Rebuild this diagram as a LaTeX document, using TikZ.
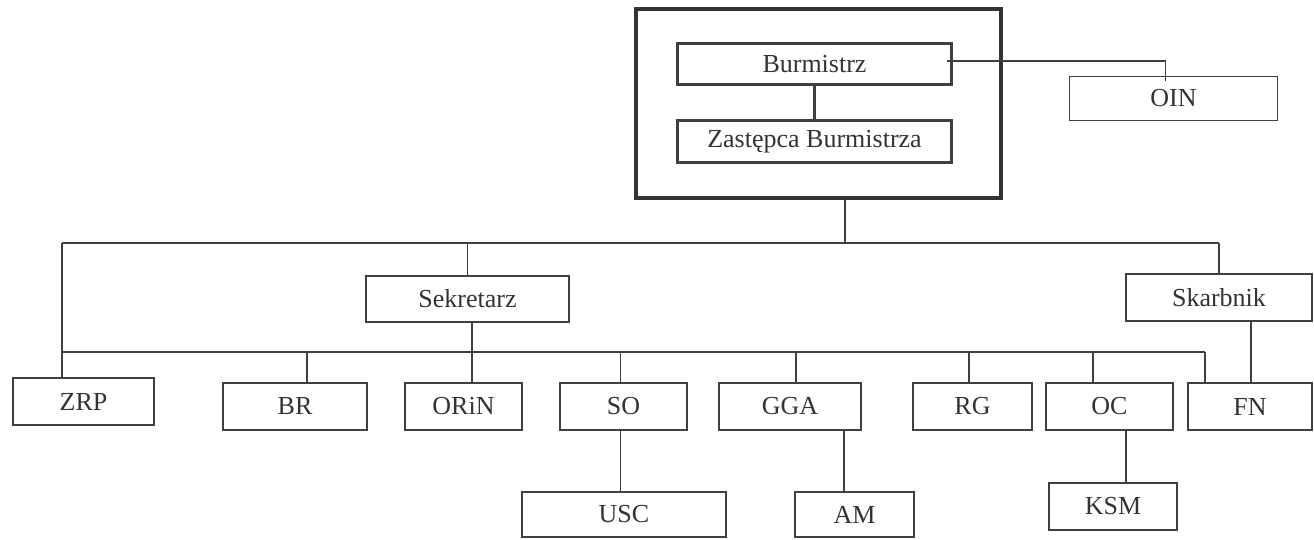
\documentclass[tikz,border=0pt]{standalone}
\usepackage{fontspec}
\setmainfont{Liberation Serif}
\begin{document}
\begin{tikzpicture}[x=1pt, y=-1pt,
    jedn/.style={draw=black!75, line width=1.4pt, inner sep=0pt, text=black!80,
        font=\fontsize{26}{30}\selectfont},
    wladza/.style={jedn, line width=3.2pt},
    linia/.style={draw=black!75, line width=1.4pt}]
    \useasboundingbox (0,0) rectangle (1314,539);

    % Kierownictwo
    \node[draw=black!80, line width=4pt, minimum width=365pt, minimum height=189pt] (urzad) at (818.5,103.5) {};
    \node[wladza, minimum width=274pt, minimum height=41pt] (burm) at (814.5,64) {Burmistrz};
    \node[wladza, minimum width=274pt, minimum height=42pt] (zast) at (814.5,141.5) {Zastępca Burmistrza};
    \node[jedn, minimum width=208pt, minimum height=44pt] (oin) at (1173.5,98.5) {OIN};

    % Sekretarz i Skarbnik
    \node[jedn, minimum width=203pt, minimum height=46pt] (sek) at (467.5,299) {Sekretarz};
    \node[jedn, minimum width=186pt, minimum height=47pt] (skarb) at (1219,297.5) {Skarbnik};

    % Komórki
    \node[jedn, minimum width=141pt, minimum height=47pt] (zrp) at (83.5,401.5) {ZRP};
    \node[jedn, minimum width=144pt, minimum height=47pt] (br) at (295,406.5) {BR};
    \node[jedn, minimum width=117pt, minimum height=47pt] (orin) at (463.5,406.5) {ORiN};
    \node[jedn, minimum width=127pt, minimum height=47pt] (so) at (623.5,406.5) {SO};
    \node[jedn, minimum width=142pt, minimum height=47pt] (gga) at (790,406.5) {GGA};
    \node[jedn, minimum width=119pt, minimum height=47pt] (rg) at (972.5,406.5) {RG};
    \node[jedn, minimum width=127pt, minimum height=47pt] (oc) at (1109.5,406.5) {OC};
    \node[jedn, minimum width=124pt, minimum height=47pt] (fn) at (1250,406.5) {FN};
    \node[jedn, minimum width=204pt, minimum height=45pt] (usc) at (624,514.5) {USC};
    \node[jedn, minimum width=119pt, minimum height=45pt] (am) at (854.5,514.5) {AM};
    \node[jedn, minimum width=128pt, minimum height=47pt] (ksm) at (1113,506.5) {KSM};

    % Magistrale
    \coordinate (m1l) at (62,243);
    \coordinate (m1p) at (skarb.north |- m1l);
    \coordinate (m2l) at (62,352);
    \coordinate (m2p) at ([xshift=-45pt]fn.north |- m2l);

    % Połączenia kierownictwa
    \draw[linia, line width=3.2pt] (burm) -- (zast);
    \draw[linia, line width=1.1pt] ([xshift=-6pt, yshift=3pt]burm.east) -| ([xshift=-8pt, yshift=-5pt]oin.north);
    \draw[linia] ([xshift=26.5pt]urzad.south) -- ([xshift=26.5pt]urzad.south |- m1l);

    % Górna magistrala
    \draw[linia] (m1l) -- (m1p);
    \draw[linia] (m1l) -- (zrp.north -| m1l);
    \draw[linia] (sek.north |- m1l) -- (sek.north);
    \draw[linia] (m1p) -- (skarb.north);

    % Dolna magistrala
    \draw[linia] (m2l) -- (m2p);
    \draw[linia] ([xshift=12pt]br.north |- m2l) -- ([xshift=12pt]br.north);
    \draw[linia] ([xshift=4.5pt]sek.south) -- ([xshift=4.5pt]sek.south |- orin.north);
    \draw[linia] ([xshift=-3pt]so.north |- m2l) -- ([xshift=-3pt]so.north);
    \draw[linia] ([xshift=6pt]gga.north |- m2l) -- ([xshift=6pt]gga.north);
    \draw[linia] ([xshift=-3.5pt]rg.north |- m2l) -- ([xshift=-3.5pt]rg.north);
    \draw[linia] ([xshift=-16.5pt]oc.north |- m2l) -- ([xshift=-16.5pt]oc.north);
    \draw[linia] (m2p) -- (m2p |- fn.north);
    \draw[linia] ([xshift=32pt]skarb.south) -- ([xshift=32pt]skarb.south |- fn.north);

    % Podległe komórki
    \draw[linia] ([xshift=-3pt]so.south) -- ([xshift=-3pt]so.south |- usc.north);
    \draw[linia] ([xshift=54pt]gga.south) -- ([xshift=54pt]gga.south |- am.north);
    \draw[linia] ([xshift=16.5pt]oc.south) -- ([xshift=16.5pt]oc.south |- ksm.north);
\end{tikzpicture}
\end{document}
